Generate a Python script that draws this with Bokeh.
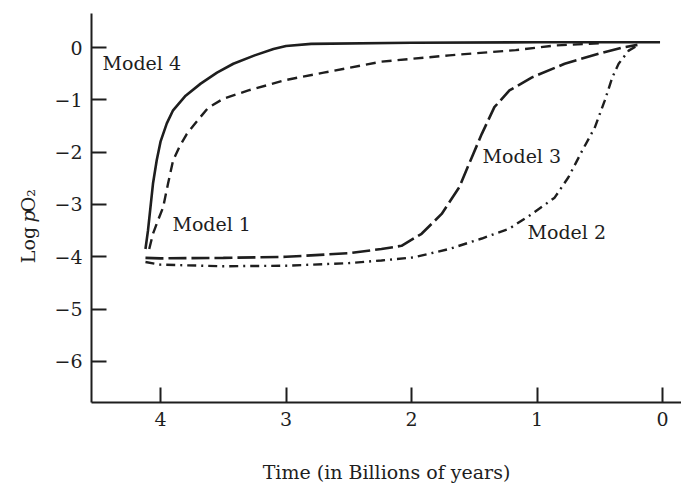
import math
from bokeh.plotting import figure
from bokeh.layouts import row
from bokeh.models import Range1d, FixedTicker
from bokeh.core.properties import value
from bokeh.embed import file_html
from bokeh.resources import INLINE

# ---- data (time in billions of years before present, log pO2) ----
m4_time = [4.12, 4.10, 4.08, 4.06, 4.03, 4.00, 3.95, 3.90, 3.80, 3.68, 3.55, 3.42, 3.25, 3.10, 3.00, 2.80, 2.00, 1.00, 0.02]
m4_logp = [-3.85, -3.50, -3.05, -2.60, -2.15, -1.80, -1.45, -1.20, -0.92, -0.69, -0.48, -0.31, -0.15, -0.03, 0.03, 0.07, 0.09, 0.10, 0.10]

m1_time = [4.09, 4.06, 4.02, 3.98, 3.94, 3.90, 3.85, 3.79, 3.70, 3.62, 3.50, 3.30, 3.00, 2.70, 2.24, 1.70, 1.17, 0.85, 0.50]
m1_logp = [-3.85, -3.56, -3.30, -3.06, -2.60, -2.16, -1.90, -1.65, -1.38, -1.15, -0.98, -0.82, -0.62, -0.48, -0.27, -0.15, -0.05, 0.04, 0.08]

m3_time = [4.12, 4.00, 3.50, 3.00, 2.50, 2.24, 2.08, 1.92, 1.76, 1.62, 1.52, 1.44, 1.34, 1.22, 1.04, 0.78, 0.51, 0.32, 0.20]
m3_logp = [-4.02, -4.03, -4.02, -4.00, -3.93, -3.85, -3.79, -3.56, -3.18, -2.67, -2.10, -1.65, -1.14, -0.82, -0.57, -0.31, -0.12, 0.00, 0.05]

m2_time = [4.12, 4.00, 3.50, 3.00, 2.50, 2.24, 1.98, 1.70, 1.44, 1.22, 1.04, 0.86, 0.75, 0.64, 0.54, 0.46, 0.40, 0.35, 0.27, 0.20]
m2_logp = [-4.10, -4.15, -4.18, -4.17, -4.12, -4.07, -4.01, -3.85, -3.65, -3.46, -3.18, -2.87, -2.48, -1.97, -1.53, -1.01, -0.57, -0.31, -0.06, 0.04]

model_names = ["Model 4", "Model 1", "Model 3", "Model 2"]
x_ticks = [4, 3, 2, 1, 0]
y_ticks = [0, -1, -2, -3, -4, -5, -6]
y_tick_labels = ["0", "\u22121", "\u22122", "\u22123", "\u22124", "\u22125", "\u22126"]
x_title = "Time (in Billions of years)"
y_title_parts = ["Log", "p", "O\u2082"]

INK = "#1e1e1e"
FONT = "DejaVu Serif"

# ---- main plot ----
p = figure(width=641, height=497, output_backend="svg", toolbar_location=None,
           x_range=Range1d(4.55, -0.151), y_range=Range1d(-6.784, 0.65),
           min_border_left=51, min_border_right=0, min_border_top=13, min_border_bottom=95)
p.grid.visible = False
p.outline_line_color = None
p.background_fill_color = "white"
p.border_fill_color = "white"

for ax in (p.xaxis[0], p.yaxis[0]):
    ax.axis_line_color = INK
    ax.axis_line_width = 2
    ax.major_tick_line_color = INK
    ax.major_tick_line_width = 2
    ax.major_tick_in = 15
    ax.major_tick_out = 0
    ax.minor_tick_line_color = None
    ax.major_label_text_font = FONT
    ax.major_label_text_font_size = "19px"
    ax.major_label_text_color = INK
    ax.major_label_standoff = 9

p.xaxis[0].ticker = FixedTicker(ticks=x_ticks)
p.yaxis[0].ticker = FixedTicker(ticks=y_ticks)
p.yaxis[0].major_label_overrides = {t: s for t, s in zip(y_ticks, y_tick_labels)}
p.xaxis[0].major_label_overrides = {t: str(t) for t in x_ticks}

p.xaxis[0].axis_label = x_title
p.xaxis[0].axis_label_text_font = FONT
p.xaxis[0].axis_label_text_font_size = "19px"
p.xaxis[0].axis_label_text_font_style = "normal"
p.xaxis[0].axis_label_text_color = INK
p.xaxis[0].axis_label_standoff = 32

p.line(m4_time, m4_logp, line_color=INK, line_width=2.6)
p.line(m1_time, m1_logp, line_color=INK, line_width=2.4, line_dash="10 6")
p.line(m3_time, m3_logp, line_color=INK, line_width=2.6, line_dash="18 5")
p.line(m2_time, m2_logp, line_color=INK, line_width=2.4, line_dash="9 5 2 5")

# curve labels (layout positions, in data space inside the frame)
label_x = [4.462, 3.905, 1.434, 1.076]
label_y = [-0.287, -3.38, -2.08, -3.535]
p.text(x=label_x, y=label_y, text=model_names, text_font=value(FONT), text_font_size=value("19px"),
       text_color=INK, text_align="left", text_baseline="middle")

# ---- narrow panel holding the rotated y title (Log pO2, italic p) ----
lab = figure(width=40, height=497, output_backend="svg", toolbar_location=None,
             x_range=Range1d(0, 40), y_range=Range1d(0, 497),
             x_axis_type=None, y_axis_type=None, min_border=0)
lab.grid.visible = False
lab.outline_line_color = None
lab.background_fill_color = "white"
lab.border_fill_color = "white"
part_y = [178, 230, 243]
part_style = ["normal", "italic", "normal"]
for txt, yy, st in zip(y_title_parts, part_y, part_style):
    lab.text(x=[27], y=[yy], text=[txt], angle=math.pi / 2, text_font=value(FONT),
             text_font_size=value("19px"), text_font_style=value(st), text_color=INK,
             text_align="left", text_baseline="alphabetic")

layout = row(lab, p)
open("out.html", "w").write(file_html(layout, INLINE))
